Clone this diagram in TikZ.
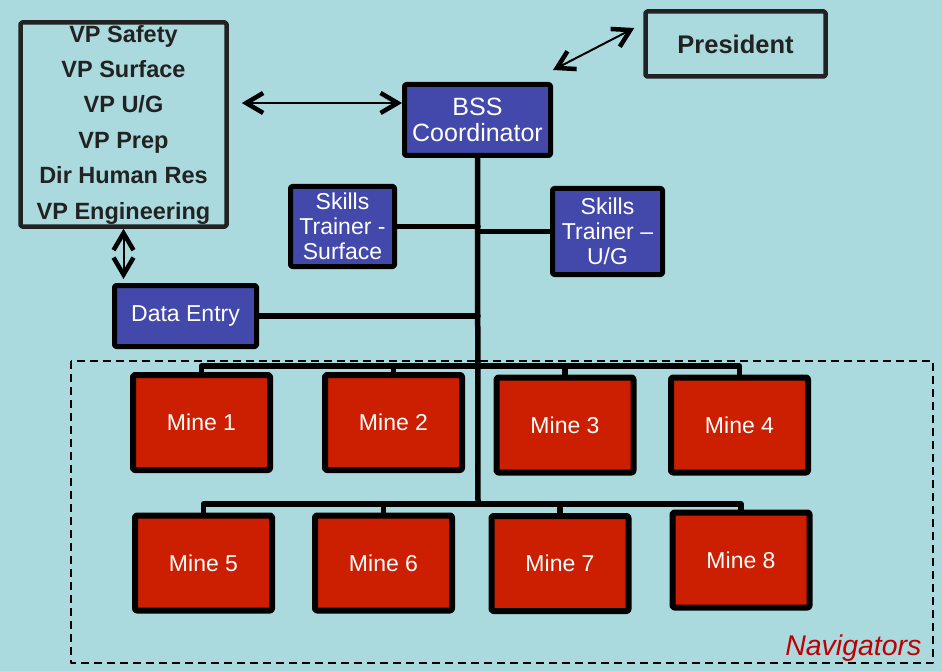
\documentclass[tikz,border=0pt]{standalone}
\usepackage{fontspec}
\setmainfont{Liberation Sans}
\usetikzlibrary{arrows.meta}
\definecolor{bgblue}{RGB}{170,218,222}
\definecolor{bssblue}{RGB}{67,73,170}
\definecolor{minered}{RGB}{204,30,0}
\definecolor{navred}{RGB}{192,0,0}
\definecolor{boxgray}{RGB}{34,34,34}
\begin{document}
\begin{tikzpicture}[x=1pt,y=-1pt,line cap=round,line join=round,
  staffbox/.style={draw=black,line width=5pt,fill=bssblue,text=white,inner sep=0pt,align=center,rounded corners=1.5pt,font=\fontsize{23}{25}\selectfont},
  minebox/.style={draw=black,line width=6pt,fill=minered,text=white,inner sep=0pt,minimum width=137pt,minimum height=95pt,rounded corners=2pt,font=\fontsize{23}{27}\selectfont},
  headbox/.style={draw=boxgray,line width=4.5pt,inner sep=0pt,align=center,rounded corners=1.5pt,text=boxgray},
  link/.style={line width=5.5pt},
  twoway/.style={line width=2pt,{Straight Barb[length=17pt,width=20pt,line width=4.5pt]}-{Straight Barb[length=17pt,width=20pt,line width=4.5pt]}}]
\fill[bgblue] (0,0) rectangle (942,671);
\useasboundingbox (0,0) rectangle (942,671);
\draw[line width=2pt,line cap=butt,dash pattern=on 8pt off 5pt] (71,361) rectangle (933,663);
\node (navlabel) [anchor=base east,text=navred,font=\itshape\fontsize{28.5}{30}\selectfont] at (925,655) {Navigators};
\node (vp) [headbox,minimum width=206pt,minimum height=204pt,font=\bfseries\fontsize{23.5}{35.4}\selectfont] at (123.5,124.5) {VP Safety\\VP Surface\\VP U/G\\VP Prep\\Dir Human Res\\VP Engineering};
\node (pres) [headbox,minimum width=180pt,minimum height=65pt,font=\bfseries\fontsize{25.5}{28}\selectfont] at (735.5,44) {President};
\node (bss) [staffbox,minimum width=146pt,minimum height=71pt,font=\fontsize{25}{26}\selectfont] at (477.5,120) {BSS\\Coordinator};
\node (sts) [staffbox,minimum width=104pt,minimum height=80pt] at (342.5,226.5) {Skills\\Trainer -\\Surface};
\node (stu) [staffbox,minimum width=110pt,minimum height=86pt] at (607.5,231.5) {Skills\\Trainer --\\U/G};
\node (de) [staffbox,minimum width=142pt,minimum height=61pt] at (185.5,316) {Data Entry};
\node (m1) [minebox] at (201.5,422.5) {Mine 1};
\node (m2) [minebox] at (393.5,422.5) {Mine 2};
\node (m3) [minebox] at (565,425) {Mine 3};
\node (m4) [minebox] at (739.5,425) {Mine 4};
\node (m5) [minebox] at (203.5,563) {Mine 5};
\node (m6) [minebox] at (383.5,563) {Mine 6};
\node (m7) [minebox] at (560,563.5) {Mine 7};
\node (m8) [minebox] at (741,560) {Mine 8};
\coordinate (topbus) at (478,366);
\coordinate (lowbus) at (478,504);
\draw[link] (bss.south) -- (lowbus);
\draw[link] (de.east) -- (de.east -| lowbus);
\draw[link] (sts.east) -- (sts.east -| lowbus);
\draw[link] (stu.west) -- (stu.west -| lowbus);
\draw[link] (m1.north) -- (m1.north |- topbus) -- (m4.north |- topbus) -- (m4.north);
\draw[link] (m2.north) -- (m2.north |- topbus);
\draw[link] (m3.north) -- (m3.north |- topbus);
\draw[link] (m5.north) -- (m5.north |- lowbus) -- (m8.north |- lowbus) -- (m8.north);
\draw[link] (m6.north) -- (m6.north |- lowbus);
\draw[link] (m7.north) -- (m7.north |- lowbus);
\draw[twoway] ([xshift=13pt,yshift=21.5pt]vp.east) -- ([yshift=17pt]bss.west);
\draw[twoway] (vp.south) -- ([yshift=4pt]vp.south |- de.north);
\draw[twoway] ([yshift=12pt]bss.north east) -- ([xshift=-9pt,yshift=16pt]pres.west);
\end{tikzpicture}
\end{document}
